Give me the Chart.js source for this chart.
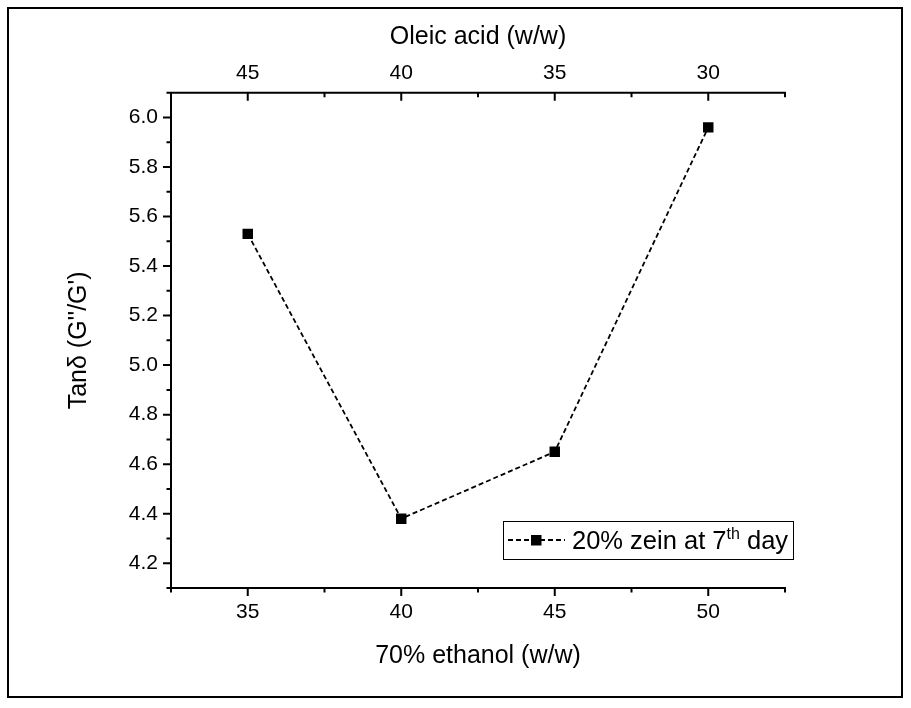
<!DOCTYPE html>
<html lang="en">
<head>
  <meta charset="UTF-8" />
  <title>Tan delta vs composition</title>
  <script src="https://cdn.jsdelivr.net/npm/chart.js"></script>
  <style>
    * { margin: 0; padding: 0; box-sizing: border-box; }
    body { background: #fff; width: 911px; height: 708px; overflow: hidden; }
    #wrap { position: absolute; left: 0; top: 0; width: 911px; height: 708px; }
  </style>
</head>
<body>
  <div id="wrap">
    <canvas id="tanChart" width="911" height="708"></canvas>
  </div>

  <script>
    // Datos
    const ethanol = [35, 40, 45, 50];          // 70% ethanol (w/w)
    const tanDelta = [5.53, 4.38, 4.65, 5.96]; // Tan delta (G''/G')
    const ethanolTicks = [35, 40, 45, 50];
    const ethanolMinor = [32.5, 37.5, 42.5, 47.5, 52.5];
    const oleicTicks = [45, 40, 35, 30];
    const oleicMinor = [47.5, 42.5, 37.5, 32.5, 27.5];
    const yTicks = [4.2, 4.4, 4.6, 4.8, 5.0, 5.2, 5.4, 5.6, 5.8, 6.0];
    const yMinor = [4.1, 4.3, 4.5, 4.7, 4.9, 5.1, 5.3, 5.5, 5.7, 5.9, 6.1];

    const FONT = 'Liberation Sans, Arial, sans-serif';

    // Ejes dibujados a mano: izquierda y abajo hacia afuera, arriba hacia adentro
    const axesPlugin = {
      id: 'axesPlugin',
      beforeDraw(chart) {
        const c = chart.ctx;
        c.save();
        c.fillStyle = '#fff';
        c.fillRect(0, 0, chart.width, chart.height);
        c.strokeStyle = '#000';
        c.lineWidth = 2;
        c.strokeRect(8, 8, 894, 689);
        c.restore();
      },
      afterDraw(chart) {
        const { left, right, top, bottom } = chart.chartArea;
        const x = chart.scales.x, x2 = chart.scales.x2, y = chart.scales.y;
        const c = chart.ctx;
        c.save();
        c.strokeStyle = '#000';
        c.lineWidth = 2;
        c.beginPath();
        c.moveTo(left, top - 1); c.lineTo(left, bottom + 1);
        c.moveTo(left - 1, bottom); c.lineTo(right + 1, bottom);
        c.moveTo(left - 1, top); c.lineTo(right + 1, top);
        yTicks.forEach(v => { const p = y.getPixelForValue(v); c.moveTo(left - 8, p); c.lineTo(left, p); });
        yMinor.forEach(v => { const p = y.getPixelForValue(v); c.moveTo(left - 4.5, p); c.lineTo(left, p); });
        ethanolTicks.forEach(v => { const p = x.getPixelForValue(v); c.moveTo(p, bottom); c.lineTo(p, bottom + 8); });
        ethanolMinor.forEach(v => { const p = x.getPixelForValue(v); c.moveTo(p, bottom); c.lineTo(p, bottom + 4.5); });
        oleicTicks.forEach(v => { const p = x2.getPixelForValue(v); c.moveTo(p, top); c.lineTo(p, top + 8); });
        oleicMinor.forEach(v => { const p = x2.getPixelForValue(v); c.moveTo(p, top); c.lineTo(p, top + 4.5); });
        c.stroke();

        // Leyenda con superíndice
        const bx = 503, by = 521, bw = 290, bh = 38, cy = by + bh / 2;
        c.lineWidth = 1;
        c.strokeRect(bx + 0.5, by + 0.5, bw, bh);
        c.lineWidth = 1.8;
        c.setLineDash([5, 3]);
        c.beginPath(); c.moveTo(bx + 5, cy); c.lineTo(bx + 62, cy); c.stroke();
        c.setLineDash([]);
        c.fillStyle = '#000';
        c.fillRect(bx + 28, cy - 5, 10.5, 10.5);
        c.textBaseline = 'alphabetic';
        c.font = '25.5px ' + FONT;
        let tx = bx + 69;
        const base = cy + 9;
        const t1 = '20% zein at 7';
        c.fillText(t1, tx, base); tx += c.measureText(t1).width;
        c.font = '16px ' + FONT;
        c.fillText('th', tx, base - 10); tx += c.measureText('th').width;
        c.font = '25.5px ' + FONT;
        c.fillText(' day', tx, base);
        c.restore();
      }
    };

    const ctx = document.getElementById('tanChart').getContext('2d');
    new Chart(ctx, {
      type: 'line',
      data: {
        datasets: [{
          label: '20% zein at 7th day',
          data: ethanol.map((e, i) => ({ x: e, y: tanDelta[i] })),
          borderColor: '#000',
          borderWidth: 1.8,
          borderDash: [5, 3],
          pointStyle: 'rect',
          pointRadius: 7.4,
          pointBackgroundColor: '#000',
          pointBorderWidth: 0,
          fill: false,
          tension: 0
        }]
      },
      options: {
        responsive: false,
        animation: false,
        layout: { padding: { left: 0, right: 126, top: 0, bottom: 0 } },
        plugins: { legend: { display: false }, tooltip: { enabled: false } },
        scales: {
          x: {
            type: 'linear', position: 'bottom', min: 32.5, max: 52.5,
            afterBuildTicks: s => { s.ticks = ethanolTicks.map(v => ({ value: v })); },
            afterFit: s => { s.height = 120; },
            grid: { display: false, drawTicks: false },
            border: { display: false },
            ticks: { color: '#000', font: { family: FONT, size: 21 }, padding: 12, maxRotation: 0 },
            title: { display: true, text: '70% ethanol (w/w)', color: '#000', font: { family: FONT, size: 25 }, padding: { bottom: 37 } }
          },
          x2: {
            type: 'linear', position: 'top', min: 27.5, max: 47.5, reverse: true,
            afterBuildTicks: s => { s.ticks = oleicTicks.map(v => ({ value: v })); },
            afterFit: s => { s.height = 92.7; },
            grid: { display: false, drawTicks: false },
            border: { display: false },
            ticks: { color: '#000', font: { family: FONT, size: 21 }, padding: 7, maxRotation: 0 },
            title: { display: true, text: 'Oleic acid (w/w)', color: '#000', font: { family: FONT, size: 25 }, padding: { top: 22 } }
          },
          y: {
            type: 'linear', position: 'left', min: 4.1, max: 6.1,
            afterBuildTicks: s => { s.ticks = yTicks.map(v => ({ value: v })); },
            afterFit: s => { s.width = 171; },
            grid: { display: false, drawTicks: false },
            border: { display: false },
            ticks: { color: '#000', font: { family: FONT, size: 21 }, padding: 13, callback: v => v.toFixed(1) },
            title: { display: true, text: "Tanδ (G''/G')", color: '#000', font: { family: FONT, size: 25 }, padding: { top: 64 } }
          }
        }
      },
      plugins: [axesPlugin]
    });
  </script>
</body>
</html>
